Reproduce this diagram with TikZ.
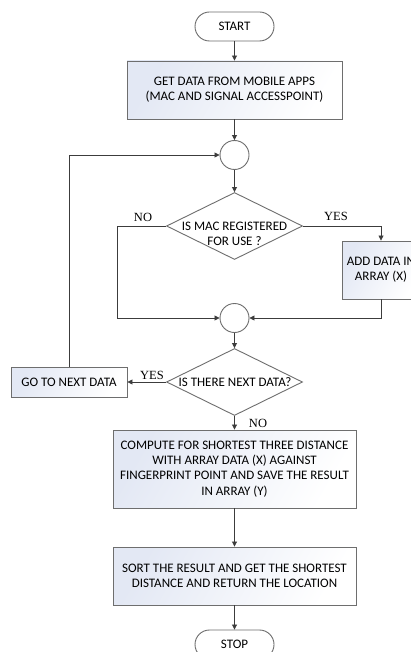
\documentclass[tikz,border=0pt]{standalone}
\usepackage{fontspec}
\setmainfont{Carlito}
\newfontfamily\lblfont{Liberation Serif}
\usetikzlibrary{shapes.geometric,arrows.meta}
\definecolor{edge}{HTML}{6E6E6E}
\definecolor{wire}{HTML}{3C3C3C}
\definecolor{tint}{HTML}{E3E8F4}
\tikzset{
  box/.style={draw=edge,line width=0.9pt,left color=tint,right color=white,shading angle=60,
     align=center,inner sep=2pt,font=\fontsize{13}{15.3}\selectfont},
  term/.style={draw=edge,line width=0.9pt,fill=white,rounded corners=14.5pt,minimum width=79pt,minimum height=29pt,
     font=\fontsize{13}{15.3}\selectfont},
  joint/.style={draw=edge,line width=0.9pt,fill=white,circle,minimum size=29pt,inner sep=0pt},
  decide/.style={draw=edge,line width=0.9pt,fill=white,diamond,minimum width=136pt,minimum height=67pt,inner sep=0pt},
  dtext/.style={align=center,inner sep=0pt,font=\fontsize{13}{15}\selectfont},
  arr/.style={draw=wire,line width=0.8pt,-{Triangle[length=5pt,width=5pt]}},
  yn/.style={font=\lblfont\fontsize{12.5}{14}\selectfont,inner sep=0pt},
}
\begin{document}
\begin{tikzpicture}[x=1pt,y=-1pt]
\clip (0,0) rectangle (411,652);
\fill[white] (0,0) rectangle (411,652);
\node[term] (start) at (234.5,26.5) {START};
\node[box,minimum width=215pt,minimum height=58pt] (get) at (234.5,90) {GET DATA FROM MOBILE APPS\\(MAC AND SIGNAL ACCESSPOINT)};
\node[joint] (c1) at (234.5,155) {};
\node[decide] (d1) at (234.5,226) {};
\node[dtext] (d1t) at (234.5,233.5) {IS MAC REGISTERED\\FOR USE ?};
\node[box,minimum width=78pt,minimum height=58pt] (add) at (381,270) {ADD DATA IN\\ARRAY (X)};
\node[joint] (c2) at (234.5,318) {};
\node[decide] (d2) at (234.5,382) {};
\node[dtext] (d2t) at (235,382) {IS THERE NEXT DATA?};
\node[box,minimum width=116pt,minimum height=30pt] (go) at (69,382) {GO TO NEXT DATA};
\node[box,minimum width=243pt,minimum height=78pt] (comp) at (234.5,469) {COMPUTE FOR SHORTEST THREE DISTANCE\\WITH ARRAY DATA (X) AGAINST\\FINGERPRINT POINT AND SAVE THE RESULT\\IN ARRAY (Y)};
\node[box,minimum width=243pt,minimum height=58pt] (sort) at (234.5,576) {SORT THE RESULT AND GET THE SHORTEST\\DISTANCE AND RETURN THE LOCATION};
\node[term] (stop) at (234.5,644.5) {STOP};
\coordinate (nl) at (117,226);
% connectors
\draw[arr] (start) -- (get);
\draw[arr] (get) -- (c1);
\draw[arr] (c1) -- (d1);
\draw[arr] (d1.east) -| (add.north);
\draw[arr] (d1.west) -- (nl) |- (c2.west);
\draw[arr] (add.south) |- (c2.east);
\draw[arr] (c2) -- (d2);
\draw[arr] (d2.west) -- (go.east);
\draw[arr] (go.north) |- (c1.west);
\draw[arr] (d2.south) -- (comp.north);
\draw[arr] (comp) -- (sort);
\draw[arr] (sort) -- (stop);
% labels
\node[yn] (no1) at (143,217) {NO};
\node[yn] (yes1) at (336,216) {YES};
\node[yn] (yes2) at (152,375) {YES};
\node[yn] (no2) at (258,423) {NO};
\end{tikzpicture}
\end{document}
